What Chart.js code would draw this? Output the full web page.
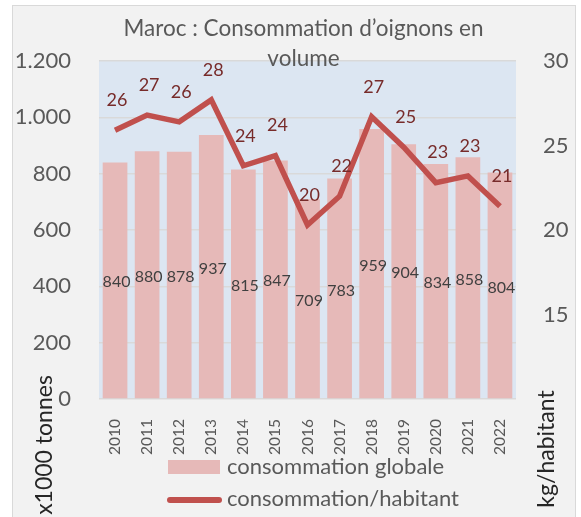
<!DOCTYPE html>
<html>
<head>
    <title>Maroc : Consommation d'oignons</title>
    <script src="https://cdn.jsdelivr.net/npm/chart.js"></script>
    <style>
        body { margin: 0; background: #fff; }
        canvas { display: block; }
    </style>
</head>
<body>
    <canvas id="onionChart" width="581" height="517"></canvas>

    <script>
        const years = ['2010', '2011', '2012', '2013', '2014', '2015', '2016', '2017', '2018', '2019', '2020', '2021', '2022'];
        // x1000 tonnes
        const totalConsumption = [840, 880, 878, 937, 815, 847, 709, 783, 959, 904, 834, 858, 804];
        // kg/habitant
        const perCapita = [25.9, 26.8, 26.4, 27.7, 23.8, 24.4, 20.3, 22.0, 26.7, 24.9, 22.8, 23.2, 21.4];
        const leftTicks = [0, 200, 400, 600, 800, 1000, 1200];
        const rightTicks = [10, 15, 20, 25, 30];

        const FONT = 'Lato, sans-serif';
        const BAR_COLOR = '#e6b9b8';
        const LINE_COLOR = '#c0504d';

        function thousands(v) {
            return String(v).replace(/\B(?=(\d{3})+(?!\d))/g, '.');
        }

        // panel + plot background
        const backgroundPlugin = {
            id: 'background',
            beforeDraw(chart) {
                const ctx = chart.ctx;
                const a = chart.chartArea;
                ctx.save();
                ctx.fillStyle = '#ffffff';
                ctx.fillRect(0, 0, chart.width, chart.height);
                ctx.fillStyle = '#f2f2f2';
                ctx.fillRect(12, 5, 563, 512);
                ctx.strokeStyle = '#d9d9d9';
                ctx.lineWidth = 1;
                ctx.strokeRect(12.5, 5.5, 563, 512);
                ctx.fillStyle = '#dce6f2';
                ctx.fillRect(a.left, a.top, a.right - a.left, a.bottom - a.top);
                ctx.restore();
            }
        };

        // data labels, title, axis titles and legend
        const decorPlugin = {
            id: 'decor',
            afterDatasetsDraw(chart) {
                const ctx = chart.ctx;
                ctx.save();
                ctx.textAlign = 'center';
                ctx.textBaseline = 'middle';

                const bars = chart.getDatasetMeta(1).data;
                ctx.font = '16px ' + FONT;
                ctx.fillStyle = '#404040';
                bars.forEach((el, i) => {
                    ctx.fillText(totalConsumption[i], el.x + 1.5, (el.y + el.base) / 2 + 2);
                });

                const points = chart.getDatasetMeta(0).data;
                ctx.font = '18px ' + FONT;
                ctx.fillStyle = '#772b2a';
                points.forEach((el, i) => {
                    ctx.fillText(Math.round(perCapita[i]), el.x + 2, el.y - 30);
                });
                ctx.restore();
            },
            afterDraw(chart) {
                const ctx = chart.ctx;
                ctx.save();
                ctx.textBaseline = 'middle';

                ctx.textAlign = 'center';
                ctx.fillStyle = '#595959';
                ctx.font = '22.5px ' + FONT;
                ctx.fillText('Maroc : Consommation d\u2019oignons en', 303.5, 29);
                ctx.fillText('volume', 303.5, 59);

                ctx.fillStyle = '#262626';
                ctx.font = '23px ' + FONT;
                ctx.save();
                ctx.translate(45, 445);
                ctx.rotate(-Math.PI / 2);
                ctx.fillText('x1000 tonnes', 0, 0);
                ctx.restore();
                ctx.save();
                ctx.translate(547, 449);
                ctx.rotate(-Math.PI / 2);
                ctx.fillText('kg/habitant', 0, 0);
                ctx.restore();

                // legend
                ctx.fillStyle = BAR_COLOR;
                ctx.fillRect(168, 460, 52, 14);
                ctx.strokeStyle = LINE_COLOR;
                ctx.lineWidth = 6;
                ctx.lineCap = 'round';
                ctx.beginPath();
                ctx.moveTo(170, 500);
                ctx.lineTo(219, 500);
                ctx.stroke();

                ctx.textAlign = 'left';
                ctx.fillStyle = '#595959';
                ctx.font = '22px ' + FONT;
                ctx.fillText('consommation globale', 227, 467);
                ctx.fillText('consommation/habitant', 227, 499);
                ctx.restore();
            }
        };

        new Chart(document.getElementById('onionChart'), {
            data: {
                labels: years,
                datasets: [{
                    type: 'line',
                    label: 'consommation/habitant',
                    data: perCapita,
                    yAxisID: 'y1',
                    borderColor: LINE_COLOR,
                    borderWidth: 5.5,
                    borderJoinStyle: 'miter',
                    pointRadius: 0,
                    tension: 0,
                    order: 0
                }, {
                    type: 'bar',
                    label: 'consommation globale',
                    data: totalConsumption,
                    yAxisID: 'y',
                    backgroundColor: BAR_COLOR,
                    categoryPercentage: 1,
                    barPercentage: 0.77,
                    order: 1
                }]
            },
            options: {
                responsive: false,
                animation: false,
                events: [],
                layout: { padding: { top: 61, left: 0, right: 0, bottom: 0 } },
                plugins: {
                    legend: { display: false },
                    title: { display: false },
                    tooltip: { enabled: false }
                },
                scales: {
                    x: {
                        grid: { display: false },
                        border: { display: false },
                        ticks: {
                            color: '#595959',
                            font: { family: FONT, size: 15.5 },
                            minRotation: 90,
                            maxRotation: 90,
                            padding: 12,
                            autoSkip: false
                        },
                        afterFit(scale) { scale.height = 118; }
                    },
                    y: {
                        position: 'left',
                        min: leftTicks[0],
                        max: leftTicks[leftTicks.length - 1],
                        afterBuildTicks(scale) { scale.ticks = leftTicks.map(v => ({ value: v })); },
                        grid: { color: '#d9d9d9', lineWidth: 1.5, drawTicks: false },
                        border: { display: false },
                        ticks: {
                            color: '#595959',
                            font: { family: FONT, size: 22 },
                            padding: 28,
                            callback: v => thousands(v)
                        },
                        afterFit(scale) { scale.width = 99; }
                    },
                    y1: {
                        position: 'right',
                        min: rightTicks[0],
                        max: rightTicks[rightTicks.length - 1],
                        afterBuildTicks(scale) { scale.ticks = rightTicks.map(v => ({ value: v })); },
                        grid: { display: false, drawTicks: false },
                        border: { display: false },
                        ticks: {
                            color: '#595959',
                            font: { family: FONT, size: 22 },
                            padding: 27,
                            // bottom label is hidden behind the axis title in the original
                            callback: v => (v === rightTicks[0] ? '' : v)
                        },
                        afterFit(scale) { scale.width = 65; }
                    }
                }
            },
            plugins: [backgroundPlugin, decorPlugin]
        });
    </script>
</body>
</html>
